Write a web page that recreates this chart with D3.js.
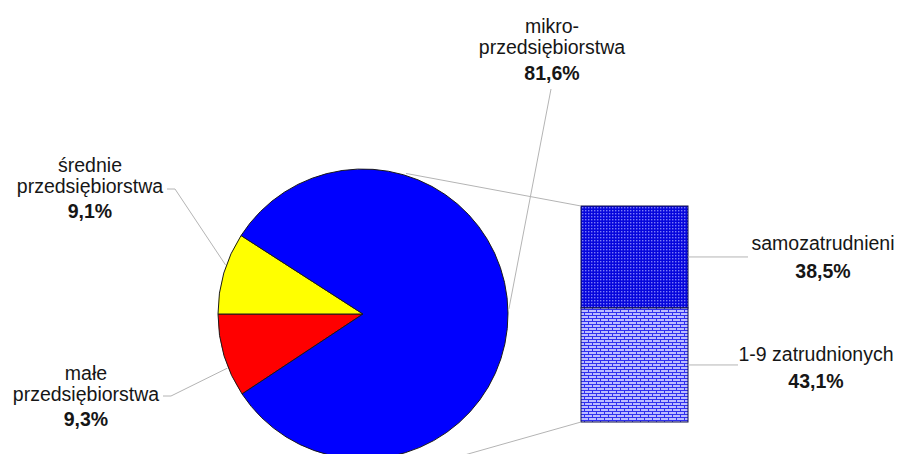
<!DOCTYPE html>
<html><head><meta charset="utf-8">
<script src="https://cdn.jsdelivr.net/npm/d3@7/dist/d3.min.js"></script>
<style>body{margin:0;background:#fff}svg{display:block}text{font-family:"Liberation Sans",Arial,sans-serif;fill:#161616}</style>
</head><body>
<script>
// Data
const pieCategories = ["małe przedsiębiorstwa", "średnie przedsiębiorstwa", "mikro-przedsiębiorstwa"];
const pieValues = [9.3, 9.1, 81.6];
const pieLabels = [["małe", "przedsiębiorstwa", "9,3%"], ["średnie", "przedsiębiorstwa", "9,1%"], ["mikro-", "przedsiębiorstwa", "81,6%"]];
const pieColors = ["#ff0000", "#ffff00", "#0000ff"];
const barCategories = ["samozatrudnieni", "1-9 zatrudnionych"];
const barValues = [38.5, 43.1];
const barLabels = [["samozatrudnieni", "38,5%"], ["1-9 zatrudnionych", "43,1%"]];

const W = 899, H = 454;
const svg = d3.select("body").append("svg").attr("width", W).attr("height", H);
const defs = svg.append("defs");

// patterns
const p1 = defs.append("pattern").attr("id", "checker").attr("patternUnits", "userSpaceOnUse").attr("width", 3).attr("height", 3);
p1.append("rect").attr("width", 3).attr("height", 3).attr("fill", "#0606dc");
p1.append("rect").attr("x", 0).attr("y", 0).attr("width", 1.4).attr("height", 1.4).attr("fill", "#7a7af8");
const p2 = defs.append("pattern").attr("id", "brick").attr("patternUnits", "userSpaceOnUse").attr("width", 8).attr("height", 6);
p2.append("rect").attr("width", 8).attr("height", 6).attr("fill", "#bcbcff");
p2.append("rect").attr("x", 0).attr("y", 0).attr("width", 8).attr("height", 1).attr("fill", "#3030ee");
p2.append("rect").attr("x", 0).attr("y", 3).attr("width", 8).attr("height", 1).attr("fill", "#3030ee");
p2.append("rect").attr("x", 0).attr("y", 0).attr("width", 1).attr("height", 3).attr("fill", "#3030ee");
p2.append("rect").attr("x", 4).attr("y", 3).attr("width", 1).attr("height", 3).attr("fill", "#3030ee");

// Pie
const cx = 363, cy = 314, R = 145;
const start = 1.5 * Math.PI - (pieValues[0] / 100) * 2 * Math.PI;
const pie = d3.pie().sort(null).startAngle(start).endAngle(start + 2 * Math.PI);
const arcs = pie(pieValues);
const arc = d3.arc().innerRadius(0).outerRadius(R);
const gp = svg.append("g").attr("transform", `translate(${cx},${cy})`);
gp.selectAll("path").data(arcs).join("path")
  .attr("d", arc).attr("fill", (d, i) => pieColors[i])
  .attr("stroke", "#1a1a1a").attr("stroke-width", 1);

// Bar (bar-of-pie)
const bx = 581, bw = 107, bTop = 206;
const barTotal = d3.sum(barValues);
const ys = d3.scaleLinear().domain([0, barTotal]).range([bTop, bTop + 216]);
const cum = [0]; barValues.forEach((v, i) => cum.push(cum[i] + v));
const fills = ["url(#checker)", "url(#brick)"];
svg.selectAll("rect.bar").data(barValues).join("rect").attr("class", "bar")
  .attr("x", bx).attr("width", bw)
  .attr("y", (d, i) => ys(cum[i])).attr("height", d => ys(d) - ys(0))
  .attr("fill", (d, i) => fills[i]).attr("stroke", "#10104a").attr("stroke-width", 1);

// connectors from pie to bar
const lineCol = "#b4b4b4";
const polar = (ang, r) => [cx + r * Math.sin(ang), cy - r * Math.cos(ang)];
const tA = polar(17 * Math.PI / 180, 147);
const bA = polar(156 * Math.PI / 180, 165);
svg.append("line").attr("x1", tA[0]).attr("y1", tA[1]).attr("x2", bx).attr("y2", ys(0)).attr("stroke", lineCol);
svg.append("line").attr("x1", bA[0]).attr("y1", bA[1]).attr("x2", bx).attr("y2", ys(barTotal)).attr("stroke", lineCol);

// pie labels
const fs = 19.5;
function label(lines, x, y0, gaps) {
  const t = svg.append("text").attr("text-anchor", "middle").style("font-size", fs + "px");
  let y = y0;
  lines.forEach((s, i) => {
    if (i > 0) y += gaps[i - 1];
    t.append("tspan").attr("x", x).attr("y", y).text(s)
      .style("font-weight", i === lines.length - 1 ? "bold" : "normal");
  });
}
// leader lines
const leader = pts => svg.append("path").attr("d", d3.line()(pts)).attr("fill", "none").attr("stroke", lineCol);
const aSmall = arcs[0], aMed = arcs[1];
const pS = polar(aSmall.startAngle + 0.35 * (aSmall.endAngle - aSmall.startAngle), R + 1);
const pM = polar(aMed.startAngle + 0.6 * (aMed.endAngle - aMed.startAngle), R + 1);
const pK = polar(88 * Math.PI / 180, R + 1);
leader([[163, 396], [171, 396], pS]);
leader([[167, 189], [175, 189], pM]);
leader([[551, 89], pK]);

label(pieLabels[0], 86, 380, [21, 25]);
label(pieLabels[1], 90, 172, [21, 25]);
label(pieLabels[2], 552, 33, [21, 26]);

// bar labels
const barMid = i => (ys(cum[i]) + ys(cum[i + 1])) / 2;
svg.append("line").attr("x1", bx + bw).attr("x2", 748).attr("y1", barMid(0)).attr("y2", barMid(0)).attr("stroke", lineCol);
svg.append("line").attr("x1", bx + bw).attr("x2", 738).attr("y1", barMid(1)).attr("y2", barMid(1)).attr("stroke", lineCol);
label(barLabels[0], 823, 250, [28]);
label(barLabels[1], 816, 361, [27]);
</script>
</body></html>
